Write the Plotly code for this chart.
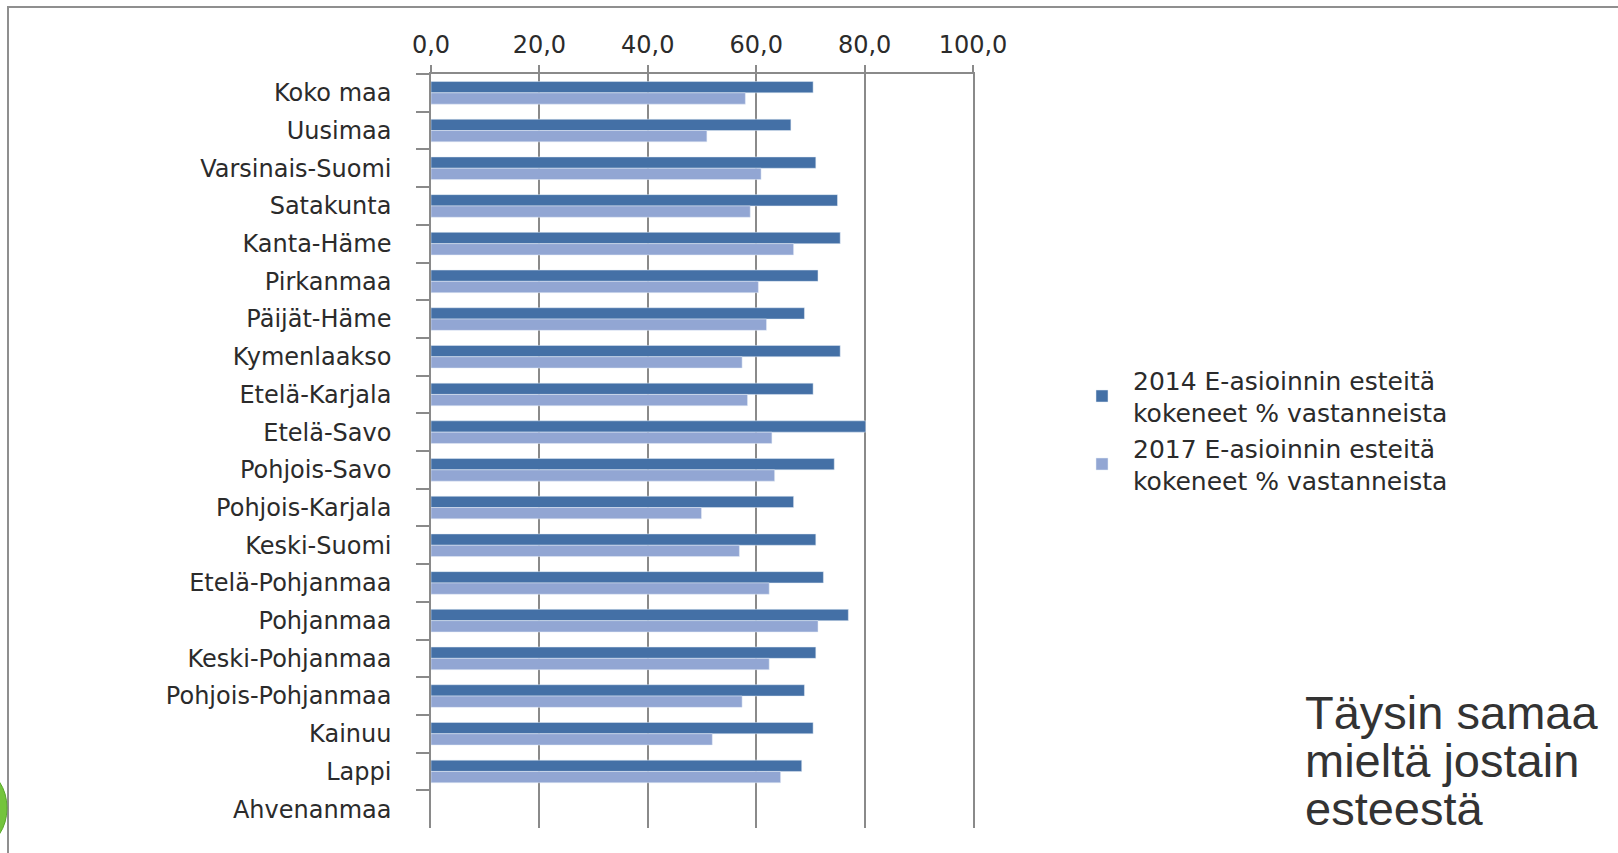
import plotly.graph_objects as go

# Regions (top to bottom) and survey shares, %
regions = [
    "Koko maa", "Uusimaa", "Varsinais-Suomi", "Satakunta", "Kanta-Häme",
    "Pirkanmaa", "Päijät-Häme", "Kymenlaakso", "Etelä-Karjala", "Etelä-Savo",
    "Pohjois-Savo", "Pohjois-Karjala", "Keski-Suomi", "Etelä-Pohjanmaa",
    "Pohjanmaa", "Keski-Pohjanmaa", "Pohjois-Pohjanmaa", "Kainuu", "Lappi",
    "Ahvenanmaa",
]
share_2014 = [70.5, 66.4, 71.0, 75.0, 75.5, 71.4, 68.9, 75.5, 70.5, 80.2,
              74.4, 66.9, 71.0, 72.4, 77.0, 71.0, 68.9, 70.5, 68.4, None]
share_2017 = [58.0, 50.9, 60.9, 58.9, 66.9, 60.4, 61.9, 57.4, 58.4, 62.9,
              63.4, 49.9, 56.9, 62.4, 71.4, 62.4, 57.4, 51.9, 64.5, None]

series_names = [
    "2014 E-asioinnin esteitä<br>kokeneet % vastanneista",
    "2017 E-asioinnin esteitä<br>kokeneet % vastanneista",
]
x_ticks = [0, 20, 40, 60, 80, 100]
x_tick_labels = ["0,0", "20,0", "40,0", "60,0", "80,0", "100,0"]
note_lines = ["Täysin samaa", "mieltä jostain", "esteestä"]

W, H = 1618, 853
L, R, T, B = 431, 973, 74, 828  # plot area in pixels

def px_x(p):
    return (p - L) / (R - L)

def px_y(p):
    return (B - p) / (B - T)

label_font = dict(family="DejaVu Sans", size=24, color="#2b2b2b")
grid = "#8a8a8a"

fig = go.Figure()
fig.add_trace(go.Bar(y=regions, x=share_2014, orientation="h",
                     name=series_names[0], marker_color="#4470a6"))
fig.add_trace(go.Bar(y=regions, x=share_2017, orientation="h",
                     name=series_names[1], marker_color="#92a6d3"))

fig.update_layout(
    width=W, height=H,
    margin=dict(l=L, r=W - R, t=T, b=H - B, pad=0),
    paper_bgcolor="white", plot_bgcolor="white",
    barmode="group", bargap=0.40, bargroupgap=0,
    font=label_font,
    showlegend=True,
    legend=dict(
        xref="container", yref="container",
        x=1071 / W, y=1 - 357 / H, xanchor="left", yanchor="top",
        itemwidth=52, tracegroupgap=30,
        font=dict(family="DejaVu Sans", size=25, color="#2b2b2b"),
        bgcolor="rgba(0,0,0,0)",
    ),
    xaxis=dict(
        side="top", range=[0, 100], tickvals=x_ticks, ticktext=x_tick_labels,
        showgrid=True, gridcolor=grid, gridwidth=1.5,
        showline=True, linecolor=grid, linewidth=1.5,
        ticks="outside", ticklen=7, tickcolor=grid, tickwidth=1.5,
        zeroline=False, tickfont=dict(size=24), ticklabelstandoff=3,
        fixedrange=True,
    ),
    yaxis=dict(
        autorange="reversed", type="category",
        showline=True, mirror=True, linecolor=grid, linewidth=1.5,
        ticks="outside", tickson="boundaries", ticklen=13,
        tickcolor=grid, tickwidth=1.5, showgrid=False,
        ticklabelstandoff=33, fixedrange=True,
    ),
)

# Frame lines along the top and left edges
fig.add_shape(type="line", xref="paper", yref="paper",
              x0=px_x(7), x1=px_x(W + 5), y0=px_y(7), y1=px_y(7),
              line=dict(color="#8f8f8f", width=2))
fig.add_shape(type="line", xref="paper", yref="paper",
              x0=px_x(8), x1=px_x(8), y0=px_y(7), y1=px_y(H + 5),
              line=dict(color="#8f8f8f", width=2))

# Green ornament peeking in at the lower left edge
fig.add_shape(type="circle", xref="paper", yref="paper",
              x0=px_x(-45), x1=px_x(7), y0=px_y(845), y1=px_y(771),
              fillcolor="#74c43c", line=dict(color="#58a82a", width=1))

# Side note
for i, line in enumerate(note_lines):
    fig.add_annotation(
        text=line, xref="paper", yref="paper",
        x=px_x(1303), y=px_y(712 + 48 * i), xanchor="left", yanchor="middle",
        showarrow=False,
        font=dict(family="Liberation Sans", size=47, color="#333333"),
    )

fig.write_html("out.html")
